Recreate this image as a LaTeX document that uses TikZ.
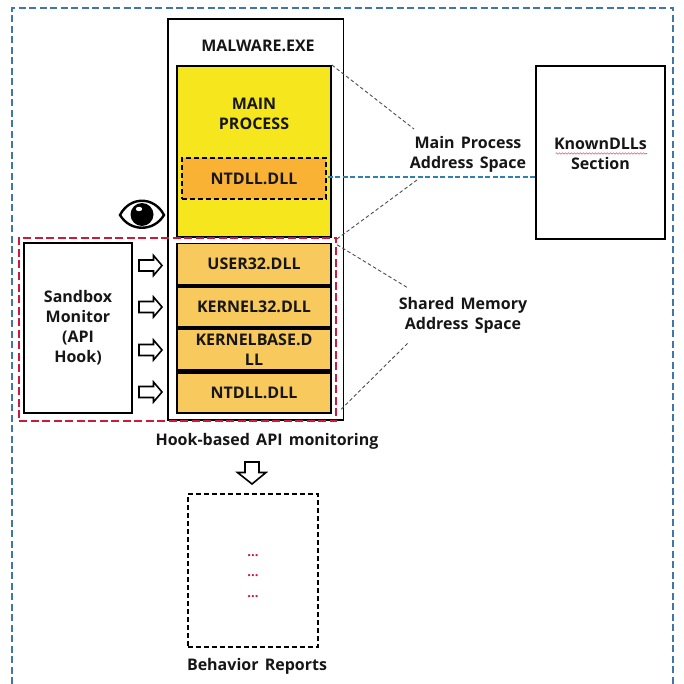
\documentclass[tikz,border=0pt]{standalone}
\usepackage{fontspec}
\setmainfont{Open Sans}[WordSpace=1.5]
\usetikzlibrary{decorations.pathmorphing}
\definecolor{framebl}{HTML}{3F77A8}
\definecolor{linkbl}{HTML}{2F7FB0}
\definecolor{hookred}{HTML}{CC1A3C}
\definecolor{mainy}{HTML}{F5E61E}
\definecolor{ntor}{HTML}{F9B233}
\definecolor{dllor}{HTML}{F8C95C}
\definecolor{ink}{HTML}{161616}
\tikzset{
  x=1pt,y=-1pt,
  lbl/.style={font=\fontsize{16}{20}\selectfont\bfseries,text=ink,align=center,inner sep=0pt},
  solidbox/.style={draw=black,line width=1.9pt,inner sep=0pt,font=\fontsize{16}{20}\selectfont\bfseries,text=ink,align=center},
  dashbox/.style={draw=black,line width=1.6pt,dash pattern=on 5pt off 3pt,inner sep=0pt},
  leader/.style={draw=black!70,line width=0.9pt,dash pattern=on 3.5pt off 2.5pt},
  hollow/.pic={\draw[black,line width=1.6pt,fill=white,line join=miter]
     (-11.5,-5.5) -- (3,-5.5) -- (3,-10) -- (11.5,0) -- (3,10) -- (3,5.5) -- (-11.5,5.5) -- cycle;},
}
\begin{document}
\begin{tikzpicture}
\useasboundingbox (0,0) rectangle (684,684);
\clip (0,0) rectangle (684,684);
% outer frame
\coordinate (fa) at (12,684);
\coordinate (fb) at (12,8);
\coordinate (fc) at (673,8);
\coordinate (fd) at (673,684);
\draw[framebl,line width=2pt,dash pattern=on 7pt off 3.5pt] (fa) -- (fb) -- (fc) -- (fd);
% malware box
\node[solidbox,minimum width=175.5pt,minimum height=401pt] (mal) at (255.75,219.5) {};
\node[lbl] (maltxt) at (258,45.5) {MALWARE.EXE};
% main process
\node[solidbox,fill=mainy,minimum width=154pt,minimum height=171pt] (main) at (254,151.5) {};
\node[lbl] (maintxt) at (254,113.5) {MAIN\\PROCESS};
\node[dashbox,fill=ntor,minimum width=144pt,minimum height=41pt,lbl,draw=black] (nt1) at (254,178.5) {NTDLL.DLL};
% dll stack
\node[solidbox,fill=dllor,minimum width=154pt,minimum height=41pt] (user) at (254,264) {USER32.DLL};
\node[solidbox,fill=dllor,minimum width=154pt,minimum height=40pt] (kern) at (254,307) {KERNEL32.DLL};
\node[solidbox,fill=dllor,minimum width=154pt,minimum height=41pt] (base) at (254,349.5) {KERNELBASE.D\\LL};
\node[solidbox,fill=dllor,minimum width=154pt,minimum height=40pt] (nt2) at (254,393) {NTDLL.DLL};
\draw[black,line width=2.6pt] (user.south west) -- (user.south east);
\draw[black,line width=2.6pt] (kern.south west) -- (kern.south east);
\draw[black,line width=2.6pt] (base.south west) -- (base.south east);
% sandbox
\node[solidbox,minimum width=108pt,minimum height=170pt] (sand) at (78,328) {Sandbox\\Monitor\\(API\\Hook)};
% red frame
\node[draw=hookred,line width=2.4pt,dash pattern=on 8pt off 3.5pt,minimum width=317pt,minimum height=183pt,inner sep=0pt] (red) at (177.5,329.5) {};
% hook arrows
\pic at (150.5,265.5) {hollow};
\pic at (150.5,307) {hollow};
\pic at (150.5,350) {hollow};
\pic at (150.5,392) {hollow};
% eye
\begin{scope}[shift={(142,215)}]
  \draw[black,line width=2.4pt,fill=white] (-22,0) .. controls (-12,-19) and (12,-19) .. (22,0) .. controls (12,17) and (-12,17) .. (-22,0) -- cycle;
  \fill[black] (0,-0.5) circle (11.5);
  \fill[white] (-3,-6) ellipse (3.2 and 2.2);
\end{scope}
% knowndlls
\node[solidbox,minimum width=129pt,minimum height=173pt] (known) at (600.5,152.5) {};
\node[lbl] (knowntxt) at (600.5,154) {KnownDLLs\\Section};
\coordinate (wa) at (555.5,153.5);
\coordinate (wb) at (647,153.5);
\draw[hookred!70,line width=0.6pt,decorate,decoration={snake,amplitude=0.7pt,segment length=3pt}] (wa) -- (wb);
% link
\draw[linkbl,line width=1.3pt,dash pattern=on 5pt off 2.5pt] (nt1.east) ++(1,-1.5) coordinate (la) (la) -- (la -| known.west);
% labels
\node[lbl] (mp) at (468,154) {Main Process\\Address Space};
\node[lbl] (sm) at (463,315.5) {Shared Memory\\Address Space};
% leaders
\coordinate (l1) at (414,129);
\coordinate (l2) at (417,180);
\coordinate (l3) at (408,288);
\coordinate (l4) at (408,343);
\draw[leader] (main.north east) -- (l1);
\draw[leader] (main.south east) ++(5,1) coordinate (l2s) (l2s) -- (l2);
\draw[leader] (red.north east) ++(0,8) coordinate (l3s) (l3s) -- (l3);
\draw[leader] (red.south east) ++(4,-13) coordinate (l4s) (l4s) -- (l4);
% bottom
\node[lbl] (hook) at (267,441) {Hook-based API monitoring};
\draw[black,line width=1.6pt,fill=white] (245,462) -- (259,462) -- (259,472.5) -- (266,472.5) -- (252,484) -- (237.5,472.5) -- (245,472.5) -- cycle;
\node[dashbox,minimum width=130pt,minimum height=153pt] (rep) at (253,570.5) {};
\node[lbl] (reptxt) at (257,666) {Behavior Reports};
\foreach \n/\yy in {a/555,b/575,c/596}{
  \node[inner sep=0pt,text=hookred,font=\fontsize{13}{13}\selectfont\bfseries] (dots\n) at (253,\yy+1) {...};
}
\end{tikzpicture}
\end{document}
